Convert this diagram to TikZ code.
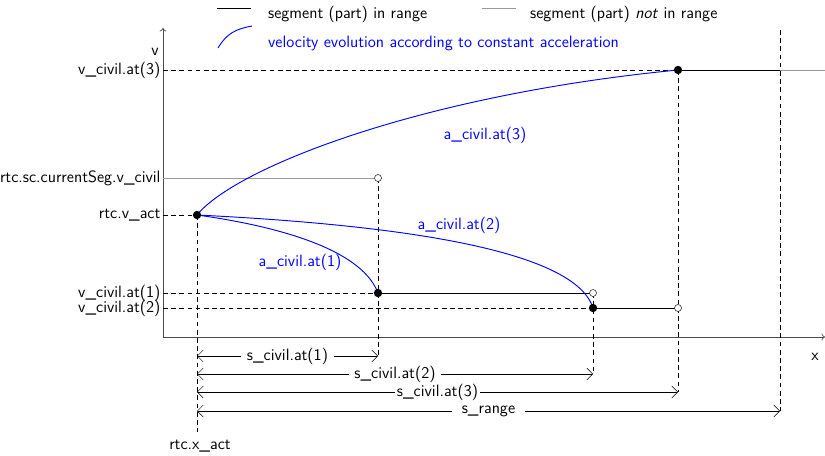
\documentclass[tikz,border=0pt]{standalone}
\usepackage{tikz}
\usetikzlibrary{arrows.meta}
\renewcommand{\familydefault}{\sfdefault}

\begin{document}
\begin{tikzpicture}[x=0.03cm,y=-0.03cm,font=\fontsize{14}{16}\selectfont,
  axis/.style={-{To[length=3pt,width=6pt]},black!70,semithick},
  guide/.style={dash pattern=on 4pt off 3pt,thin},
  inrange/.style={black,line width=0.8pt},
  outrange/.style={black!40,line width=0.8pt},
  evol/.style={blue,line width=0.8pt},
  dim/.style={{Straight Barb[length=5pt,width=10pt]}-{Straight Barb[length=5pt,width=10pt]},thin},
  lbl/.style={anchor=east,inner sep=2pt},
  dot/.style={circle,fill,inner sep=0pt,minimum size=2.5mm},
  hole/.style={circle,draw,thin,fill=white,inner sep=0pt,minimum size=2.1mm}]
\useasboundingbox (0,0) rectangle (825,456);

% legend
\coordinate (la) at (217,8); \coordinate (lb) at (251,8);
\coordinate (lc) at (482,8); \coordinate (ld) at (516,8);
\coordinate (le) at (218,48); \coordinate (lf) at (252,26);
\draw[inrange] (la) -- (lb);
\draw[outrange] (lc) -- (ld);
\draw[evol] (le) .. controls (227,33) and (236,29) .. (lf);
\node[anchor=west] (legin) at (264,14) {segment (part) in range};
\node[anchor=west] (legout) at (526,14) {segment (part) \textit{not} in range};
\node[anchor=west,blue] (legev) at (264,43) {velocity evolution according to constant acceleration};

% axes
\coordinate (O) at (163,337);
\coordinate (xend) at (825,337);
\coordinate (vend) at (163,28);
\draw[axis] (O) -- (xend);
\draw[axis] (O) -- (vend);
\node (xlab) at (815,357) {x};
\node (vlab) at (155,52) {v};

% points
\coordinate (p0) at (197,215);
\coordinate (p1) at (378,293);
\coordinate (p2) at (593,308);
\coordinate (p3) at (678,70);
\coordinate (q0) at (378,178);
\coordinate (q1) at (593,293);
\coordinate (q2) at (678,308);
\coordinate (xr) at (780,70);
\coordinate (vr) at (825,70);
\coordinate (xtop) at (780,30);

% velocity labels
\node[lbl] (lv3) at (163,70) {v\_civil.at(3)};
\node[lbl] (lcs) at (163,178) {rtc.sc.currentSeg.v\_civil};
\node[lbl] (lva) at (163,215) {rtc.v\_act};
\node[lbl] (lv1) at (163,293) {v\_civil.at(1)};
\node[lbl] (lv2) at (163,308) {v\_civil.at(2)};

\draw[guide] (lv3.east) -- (p3);
\draw[guide] (lva.east) -- (p0);
\draw[guide] (lv1.east) -- (p1);
\draw[guide] (lv2.east) -- (p2);
\draw[outrange] (lcs.east) -- (q0);

% segments
\draw[inrange] (p1) -- (q1);
\draw[inrange] (p2) -- (q2);
\draw[inrange] (p3) -- (xr);
\draw[outrange] (xr) -- (vr);

% distance ends
\coordinate (e1) at (378,356);
\coordinate (e2) at (593,374);
\coordinate (e3) at (678,392);
\coordinate (e4) at (780,411);
\coordinate (xact) at (197,432);
\node (lxa) at (200,446) {rtc.x\_act};

\draw[guide] (p0) -- (xact);
\draw[guide] (q0) -- (e1);
\draw[guide] (q1) -- (e2);
\draw[guide] (p3) -- (e3);
\draw[guide] (xtop) -- (e4);

% accelerations
\draw[evol] (p0) .. controls (235,168) and (420,95) .. (p3);
\draw[evol] (p0) .. controls (262,224) and (360,245) .. (p1);
\draw[evol] (p0) .. controls (400,225) and (575,250) .. (p2);
\node[blue] (a3) at (485,135) {a\_civil.at(3)};
\node[blue] (a2) at (459,225) {a\_civil.at(2)};
\node[blue] (a1) at (300,262) {a\_civil.at(1)};

\node[dot] (d0) at (p0) {};
\node[dot] (d1) at (p1) {};
\node[dot] (d2) at (p2) {};
\node[dot] (d3) at (p3) {};
\node[hole] (h0) at (q0) {};
\node[hole] (h1) at (q1) {};
\node[hole] (h2) at (q2) {};

% distances
\draw[dim] (xact |- e1) -- node[fill=white,inner ysep=1pt,inner xsep=5pt] (s1) {s\_civil.at(1)} (e1);
\draw[dim] (xact |- e2) -- node[fill=white,inner ysep=1pt,inner xsep=5pt] (s2) {s\_civil.at(2)} (e2);
\draw[dim] (xact |- e3) -- node[fill=white,inner ysep=1pt,inner xsep=2pt] (s3) {s\_civil.at(3)} (e3);
\draw[dim] (xact |- e4) -- node[fill=white,inner ysep=1pt,inner xsep=8pt] (sr) {s\_range} (e4);
\end{tikzpicture}
\end{document}
